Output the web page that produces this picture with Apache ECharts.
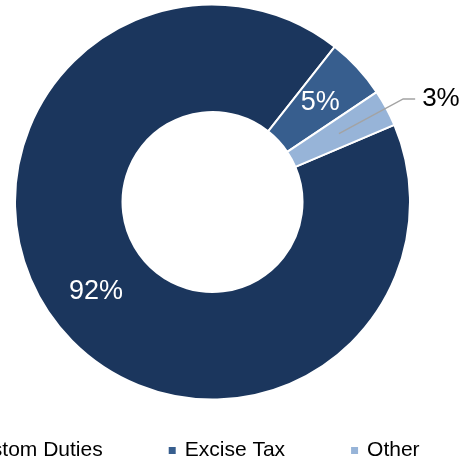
<!DOCTYPE html>
<html>
<head>
<meta charset="utf-8">
<script src="https://cdn.jsdelivr.net/npm/echarts@6/dist/echarts.min.js"></script>
<style>
  html, body { margin: 0; padding: 0; background: #ffffff; }
  #chart { width: 469px; height: 461px; }
</style>
</head>
<body>
<div id="chart"></div>
<script>
// Revenue mix by source (percent of total)
const categories = ['Custom Duties', 'Excise Tax', 'Other'];
const shares = [92, 5, 3];
const colors = ['#1b365d', '#375e8e', '#97b4d8'];

const FONT = '"Liberation Sans", Arial, sans-serif';
const innerR = 90;
const outerR = 197.5;
const midR = (innerR + outerR) / 2;
const center = [212.5, 202];
const startAngle = 23;

// Slices that carry their value label inside the ring
const ringData = categories.map((name, i) => ({
  name: name,
  value: shares[i],
  itemStyle: { color: colors[i] },
  label: { show: i !== 2 }
}));

// Invisible inner half-ring, used only so the small slice's leader line
// starts from the middle of the ring
const leaderData = categories.map((name, i) => ({
  name: name,
  value: shares[i],
  label: { show: i === 2 },
  labelLine: { show: i === 2 }
}));

const chart = echarts.init(document.getElementById('chart'), null, { renderer: 'canvas' });

chart.setOption({
  animation: false,
  backgroundColor: '#ffffff',
  legend: {
    data: categories,
    orient: 'horizontal',
    left: -58,
    top: 435,
    icon: 'rect',
    itemWidth: 9,
    itemHeight: 9,
    itemGap: 64,
    textStyle: {
      fontFamily: FONT,
      fontSize: 21,
      color: '#000000',
      padding: [0, 0, 0, 3]
    }
  },
  series: [{
    type: 'pie',
    center: center,
    radius: [innerR, outerR],
    startAngle: startAngle,
    clockwise: true,
    avoidLabelOverlap: false,
    itemStyle: { borderColor: '#ffffff', borderWidth: 2 },
    label: {
      position: 'inside',
      formatter: '{c}%',
      fontFamily: FONT,
      fontSize: 27,
      color: '#ffffff'
    },
    labelLine: { show: false },
    emphasis: { disabled: true },
    data: ringData
  }, {
    type: 'pie',
    silent: true,
    z: 5,
    center: center,
    radius: [innerR, midR],
    startAngle: startAngle,
    clockwise: true,
    avoidLabelOverlap: false,
    itemStyle: { color: 'transparent', borderWidth: 0 },
    label: {
      position: 'outside',
      formatter: '{c}%',
      fontFamily: FONT,
      fontSize: 26,
      color: '#000000',
      distanceToLabelLine: 7
    },
    labelLine: {
      length: 73,
      length2: 12,
      lineStyle: { color: '#a3a3a3', width: 1.5 }
    },
    emphasis: { disabled: true },
    data: leaderData
  }]
});
</script>
</body>
</html>
